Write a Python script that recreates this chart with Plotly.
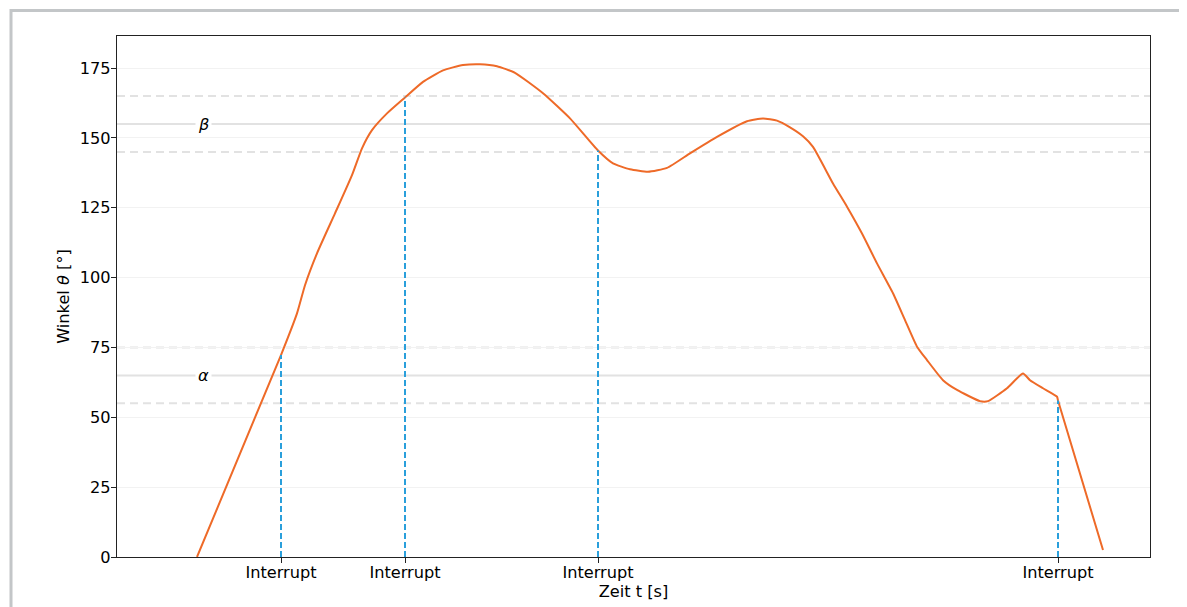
import plotly.graph_objects as go

# ---- data (time in s, angle in degrees) ----
time_s = [0.80, 1.64, 1.80, 1.88, 2.00, 2.18, 2.35, 2.45, 2.55, 2.70, 2.88, 3.06, 3.26,
          3.46, 3.63, 3.80, 3.98, 4.26, 4.53, 4.81, 4.96, 5.13, 5.31, 5.50, 5.73, 6.00,
          6.30, 6.46, 6.60, 6.73, 6.86, 6.96, 7.16, 7.30, 7.45, 7.60, 7.76, 7.88, 8.00,
          8.10, 8.26, 8.40, 8.63, 8.71, 8.90, 9.06, 9.13, 9.26, 9.40, 9.41, 9.86]
angle_deg = [0.0, 72.3, 87.2, 97.3, 108.7, 123.0, 136.7, 146.3, 152.8, 158.8, 164.5, 170.1, 174.2,
             176.1, 176.4, 175.7, 173.3, 166.0, 157.0, 145.5, 140.9, 138.8, 137.9, 139.3, 144.5, 150.4,
             156.0, 157.0, 156.2, 153.8, 150.6, 146.8, 133.7, 125.4, 115.8, 105.1, 94.4, 84.8, 75.3,
             70.5, 63.3, 59.8, 55.8, 55.8, 60.4, 65.7, 63.3, 60.4, 57.4, 56.0, 2.5]

interrupt_t = [1.64, 2.88, 4.81, 9.41]
interrupt_angle = [72.3, 164.5, 145.5, 56.0]
interrupt_labels = ["Interrupt"] * len(interrupt_t)

alpha_center, alpha_tol = 65, 10
beta_center, beta_tol = 155, 10
y_ticks = [0, 25, 50, 75, 100, 125, 150, 175]

x_range = [0, 10.33]
y_range = [0, 186.5]

FONT = "DejaVu Sans"
FS = 16.2
ORANGE = "#ee6a28"
BLUE = "#2a9fdb"
BAND = "#e2e2e2"

# page body has an 8px margin -> figure coordinates = screen - 8
OFF = 8
W_FIG, H_FIG = 1187, 607
L, T, W, H = 117 - OFF, 36 - OFF, 1033, 521

fig = go.Figure()

ix, iy = [], []
for t, a in zip(interrupt_t, interrupt_angle):
    ix += [t, t, None]
    iy += [0, a, None]

fig.add_trace(go.Scatter(x=time_s, y=angle_deg, mode="lines",
                         line=dict(color=ORANGE, width=2, shape="spline", smoothing=0.5),
                         hoverinfo="skip"))
fig.add_trace(go.Scatter(x=ix, y=iy, mode="lines",
                         line=dict(color=BLUE, width=2, dash="6px,3px"), hoverinfo="skip"))

shapes = []
for c, tol in [(alpha_center, alpha_tol), (beta_center, beta_tol)]:
    shapes.append(dict(type="line", xref="paper", yref="y", x0=0, x1=1, y0=c, y1=c,
                       line=dict(color=BAND, width=2), layer="below"))
    for v in (c - tol, c + tol):
        shapes.append(dict(type="line", xref="paper", yref="y", x0=0, x1=1, y0=v, y1=v,
                           line=dict(color=BAND, width=2, dash="8px,5px"), layer="below"))

def px(xs): return (xs - OFF - L) / W
def py(ys): return (T + H - (ys - OFF)) / H

# outer frame of the screenshot (gray border top/left)
shapes.append(dict(type="line", xref="paper", yref="paper", x0=px(10), x1=px(1200),
                   y0=py(10.5), y1=py(10.5), line=dict(color="#c3c6c8", width=3)))
shapes.append(dict(type="line", xref="paper", yref="paper", x0=px(11), x1=px(11),
                   y0=py(9), y1=py(620), line=dict(color="#c3c6c8", width=3)))

annotations = []
for c, sym in [(alpha_center, "α"), (beta_center, "β")]:
    annotations.append(dict(x=px(203), xref="paper", y=c, yref="y", text=f"<i>{sym}</i>",
                            showarrow=False, bgcolor="white", borderpad=2,
                            font=dict(family=FONT, size=FS, color="black"),
                            xanchor="center", yanchor="middle"))

fig.update_layout(
    width=W_FIG, height=H_FIG,
    margin=dict(l=L, r=W_FIG - L - W, t=T, b=H_FIG - T - H, autoexpand=False),
    paper_bgcolor="white", plot_bgcolor="white",
    showlegend=False,
    font=dict(family=FONT, size=FS, color="black"),
    shapes=shapes, annotations=annotations,
)
fig.update_xaxes(range=x_range, tickvals=interrupt_t, ticktext=interrupt_labels,
                 showgrid=False, zeroline=False, showline=True, mirror=True,
                 linecolor="#222222", linewidth=1.2, ticks="outside", ticklen=5,
                 tickcolor="#222222", ticklabelstandoff=-5,
                 tickfont=dict(family=FONT, size=FS, color="black"),
                 title=dict(text="Zeit t [s]", standoff=2,
                            font=dict(family=FONT, size=FS, color="black")),
                 automargin=False)
fig.update_yaxes(range=y_range, tickvals=y_ticks, showgrid=True, gridcolor="#f2f2f2",
                 gridwidth=1, zeroline=False, showline=True, mirror=True,
                 linecolor="#222222", linewidth=1.2, ticks="outside", ticklen=5,
                 tickcolor="#222222", ticklabelstandoff=-3,
                 tickfont=dict(family=FONT, size=FS, color="black"),
                 title=dict(text="Winkel <i>θ</i> [°]", standoff=6,
                            font=dict(family=FONT, size=FS, color="black")),
                 automargin=False)

fig.write_html("out.html")
